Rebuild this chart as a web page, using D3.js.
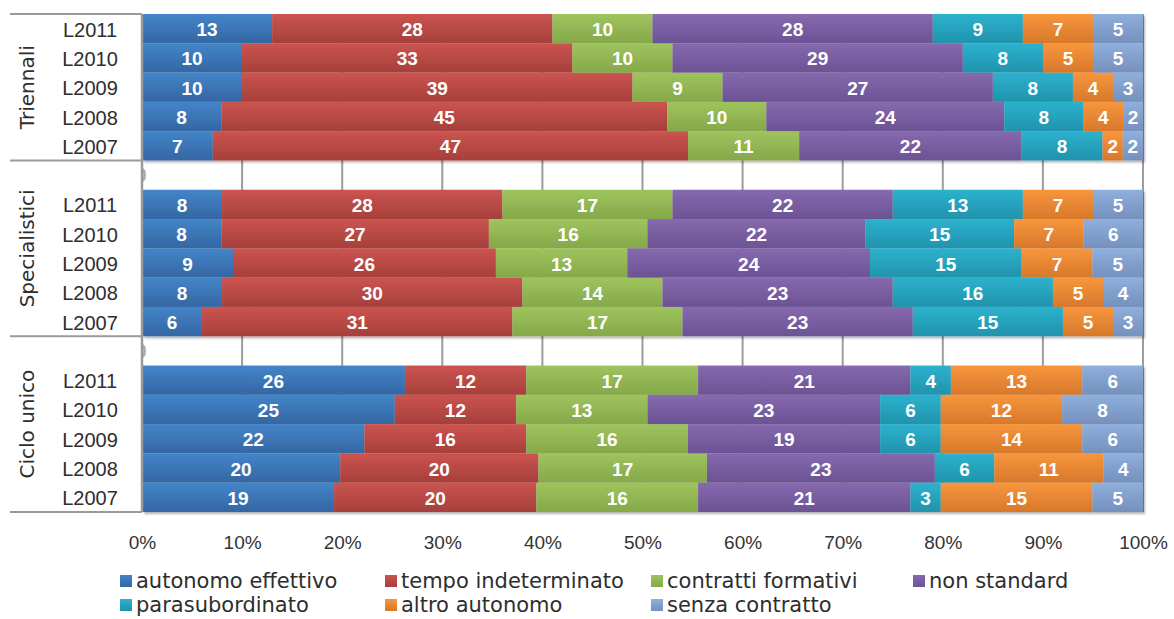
<!DOCTYPE html>
<html><head><meta charset="utf-8">
<script src="https://cdn.jsdelivr.net/npm/d3@7"></script>
<style>html,body{margin:0;padding:0;background:#fff;}svg{display:block;}</style>
</head><body>
<svg id="chart" width="1174" height="619"></svg>
<script>
const groups = ["Triennali", "Specialistici", "Ciclo unico"];
const categories = ["L2011", "L2010", "L2009", "L2008", "L2007"];
const seriesNames = ["autonomo effettivo", "tempo indeterminato", "contratti formativi", "non standard", "parasubordinato", "altro autonomo", "senza contratto"];
const colorsTop = ["#4385c8", "#cb5450", "#9fc45d", "#8669ae", "#2db2ce", "#f8963d", "#8fafdc"];
const colorsBottom = ["#3466a3", "#a63f3b", "#85a84a", "#6b5394", "#2093ac", "#d7782b", "#7590bd"];
const triennali = [
  [13, 28, 10, 28, 9, 7, 5],
  [10, 33, 10, 29, 8, 5, 5],
  [10, 39, 9, 27, 8, 4, 3],
  [8, 45, 10, 24, 8, 4, 2],
  [7, 47, 11, 22, 8, 2, 2]
];
const specialistici = [
  [8, 28, 17, 22, 13, 7, 5],
  [8, 27, 16, 22, 15, 7, 6],
  [9, 26, 13, 24, 15, 7, 5],
  [8, 30, 14, 23, 16, 5, 4],
  [6, 31, 17, 23, 15, 5, 3]
];
const cicloUnico = [
  [26, 12, 17, 21, 4, 13, 6],
  [25, 12, 13, 23, 6, 12, 8],
  [22, 16, 16, 19, 6, 14, 6],
  [20, 20, 17, 23, 6, 11, 4],
  [19, 20, 16, 21, 3, 15, 5]
];
const tickValues = [0, 0.1, 0.2, 0.3, 0.4, 0.5, 0.6, 0.7, 0.8, 0.9, 1];

const groupData = [triennali, specialistici, cicloUnico];
// build rows (with blank separator rows before 2nd and 3rd group)
const rows = [];
groupData.forEach((g, gi) => {
  if (gi > 0) rows.push({key: "gap" + gi, gap: true, group: gi});
  g.forEach((vals, ci) => {
    const r = {key: gi + "|" + categories[ci], cat: categories[ci], group: gi, gap: false};
    seriesNames.forEach((s, si) => r[si] = vals[si]);
    rows.push(r);
  });
});

const svg = d3.select("#chart");
const L = 142, R = 1143, T = 14, B = 512;
const x = d3.scaleLinear().domain([0, 1]).range([L, R]);
const y = d3.scaleBand().domain(rows.map(r => r.key)).range([T, B]).paddingInner(0);

const defs = svg.append("defs");
seriesNames.forEach((s, i) => {
  const g = defs.append("linearGradient").attr("id", "grad" + i)
    .attr("x1", 0).attr("y1", 0).attr("x2", 0).attr("y2", 1);
  g.append("stop").attr("offset", "0%").attr("stop-color", colorsTop[i]);
  g.append("stop").attr("offset", "100%").attr("stop-color", colorsBottom[i]);
});
const f = defs.append("filter").attr("id", "shadow").attr("x", "-5%").attr("y", "-5%").attr("width", "110%").attr("height", "110%");
f.append("feDropShadow").attr("dx", 2).attr("dy", 2).attr("stdDeviation", 1.2)
  .attr("flood-color", "#000").attr("flood-opacity", 0.3);
defs.append("clipPath").attr("id", "plotclip").append("rect")
  .attr("x", L + 1).attr("y", T).attr("width", R - L).attr("height", B - T);

// gridlines
svg.append("g").selectAll("line").data(tickValues.slice(1)).join("line")
  .attr("x1", d => x(d)).attr("x2", d => x(d)).attr("y1", T).attr("y2", B)
  .attr("stroke", "#9c9c9c").attr("stroke-width", 2);

// "0" artefacts in blank rows
svg.append("g").attr("clip-path", "url(#plotclip)")
  .selectAll("text").data(rows.filter(r => r.gap)).join("text")
  .attr("x", x(0) - 1).attr("y", r => y(r.key) + y.bandwidth() / 2)
  .attr("text-anchor", "middle").attr("dominant-baseline", "central")
  .attr("font-family", "Liberation Sans, Arial, sans-serif").attr("font-size", 20)
  .attr("font-weight", "bold").attr("fill", "#aaa").text("0");

// stacked bars
const dataRows = rows.filter(r => !r.gap);
const stack = d3.stack().keys(seriesNames.map((s, i) => i)).offset(d3.stackOffsetExpand);
const stacked = stack(dataRows);

const barsG = svg.append("g").attr("filter", "url(#shadow)");
stacked.forEach((layer, si) => {
  barsG.append("g").selectAll("rect").data(layer).join("rect")
    .attr("x", d => x(d[0])).attr("width", d => x(d[1]) - x(d[0]))
    .attr("y", d => y(d.data.key)).attr("height", y.bandwidth())
    .attr("fill", "url(#grad" + si + ")");
});
const labelsG = svg.append("g");
stacked.forEach((layer, si) => {
  labelsG.append("g").selectAll("text").data(layer).join("text")
    .attr("x", d => (x(d[0]) + x(d[1])) / 2)
    .attr("y", d => y(d.data.key) + y.bandwidth() / 2 + 1)
    .attr("text-anchor", "middle").attr("dominant-baseline", "central")
    .attr("font-family", "Liberation Sans, Arial, sans-serif").attr("font-weight", "bold")
    .attr("font-size", 19).attr("fill", "#fff")
    .text(d => d.data[si]);
});

// left axis line
svg.append("line").attr("x1", L).attr("x2", L).attr("y1", T).attr("y2", B)
  .attr("stroke", "#9a9a9a").attr("stroke-width", 2.5);

// table separator lines
const sepY = [T, y("gap1"), y("gap2"), B];
svg.append("g").selectAll("line").data(sepY).join("line")
  .attr("x1", 10).attr("x2", L).attr("y1", d => d).attr("y2", d => d)
  .attr("stroke", "#9a9a9a").attr("stroke-width", 2);

// category labels
svg.append("g").selectAll("text").data(dataRows).join("text")
  .attr("x", 90).attr("y", r => y(r.key) + y.bandwidth() / 2 + 1)
  .attr("text-anchor", "middle").attr("dominant-baseline", "central")
  .attr("font-family", "Liberation Sans, Arial, sans-serif").attr("font-size", 20)
  .attr("fill", "#2e2e2e").text(r => r.cat);

// group labels
svg.append("g").selectAll("text").data(groups).join("text")
  .attr("transform", (g, i) => `translate(27,${(sepY[i] + sepY[i + 1]) / 2}) rotate(-90)`)
  .attr("text-anchor", "middle").attr("dominant-baseline", "central")
  .attr("font-family", "DejaVu Sans, sans-serif").attr("font-size", 20)
  .attr("fill", "#2e2e2e").text(g => g);

// x axis
const xAxis = d3.axisBottom(x).tickValues(tickValues).tickFormat(d3.format(".0%")).tickSize(0).tickPadding(24);
const ax = svg.append("g").attr("transform", `translate(0,${B})`).call(xAxis);
ax.select(".domain").remove();
ax.selectAll("text").attr("font-family", "Liberation Sans, Arial, sans-serif").attr("font-size", 19).attr("fill", "#333");

// legend
const legX = [120, 385, 651, 913];
const legY = [581, 605];
const leg = svg.append("g").selectAll("g").data(seriesNames).join("g")
  .attr("transform", (s, i) => `translate(${legX[i % 4]},${legY[Math.floor(i / 4)]})`);
leg.append("rect").attr("x", 0).attr("y", -6).attr("width", 12).attr("height", 12)
  .attr("fill", (s, i) => "url(#grad" + i + ")");
leg.append("text").attr("x", 16).attr("y", 0).attr("dominant-baseline", "central")
  .attr("font-family", "DejaVu Sans, sans-serif").attr("font-size", 21).attr("fill", "#2e2e2e")
  .text(s => s);
</script>
</body></html>
